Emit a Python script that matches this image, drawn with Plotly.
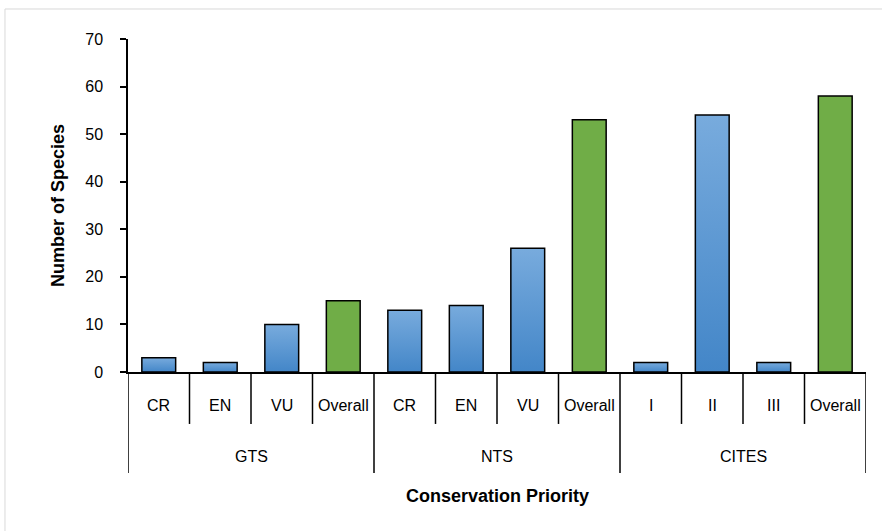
import plotly.graph_objects as go

# Conservation priority counts, grouped by listing scheme
groups = ["GTS", "NTS", "CITES"]
categories = ["CR", "EN", "VU", "Overall",
              "CR", "EN", "VU", "Overall",
              "I", "II", "III", "Overall"]
group_of = ["GTS"] * 4 + ["NTS"] * 4 + ["CITES"] * 4
species = [3, 2, 10, 15,
           13, 14, 26, 53,
           2, 54, 2, 58]
y_ticks = [0, 10, 20, 30, 40, 50, 60, 70]

BLUE_TOP = "#78abdd"
BLUE_BOTTOM = "#4386c8"
GREEN = "#70ad47"
FONT = "Liberation Sans, Arial, sans-serif"
LABEL_SIZE = 16
TITLE_SIZE = 18
BAR_W = 0.55

fig = go.Figure()

for i, (cat, val) in enumerate(zip(categories, species)):
    x0, x1 = i - BAR_W / 2, i + BAR_W / 2
    xs = [x0, x0, x1, x1, x0]
    ys = [0, val, val, 0, 0]
    if cat == "Overall":
        fig.add_trace(go.Scatter(
            x=xs, y=ys, mode="lines", fill="toself", fillcolor=GREEN,
            line=dict(color="black", width=1.5), hoverinfo="skip",
            showlegend=False))
    else:
        fig.add_trace(go.Scatter(
            x=xs, y=ys, mode="lines", fill="toself",
            fillgradient=dict(type="vertical",
                              colorscale=[[0, BLUE_BOTTOM], [1, BLUE_TOP]]),
            line=dict(color="black", width=1.5), hoverinfo="skip",
            showlegend=False))

n = len(categories)
shapes = []
annotations = []

# Category axis: divider lines between categories, longer ones between groups
for k in range(n + 1):
    is_group_edge = k == 0 or k == n or group_of[k - 1] != group_of[k]
    shapes.append(dict(
        type="line", xref="x", yref="paper",
        x0=k - 0.5, x1=k - 0.5, y0=0, y1=-0.303 if is_group_edge else -0.156,
        line=dict(color="black", width=1.5)))

for i, cat in enumerate(categories):
    annotations.append(dict(
        x=i, y=-0.102, xref="x", yref="paper", text=cat, showarrow=False,
        font=dict(family=FONT, size=LABEL_SIZE, color="black"),
        xanchor="center", yanchor="middle"))

for g in groups:
    idx = [i for i, gg in enumerate(group_of) if gg == g]
    annotations.append(dict(
        x=(idx[0] + idx[-1]) / 2, y=-0.255, xref="x", yref="paper", text=g,
        showarrow=False, font=dict(family=FONT, size=LABEL_SIZE, color="black"),
        xanchor="center", yanchor="middle"))

annotations.append(dict(
    x=0.5, y=-0.372, xref="paper", yref="paper",
    text="<b>Conservation Priority</b>", showarrow=False,
    font=dict(family=FONT, size=TITLE_SIZE, color="black"),
    xanchor="center", yanchor="middle"))

# Light chart-area frame
shapes.append(dict(
    type="rect", xref="paper", yref="paper",
    x0=-0.1667, x1=1.1, y0=-0.6, y1=1.0901,
    line=dict(color="#d9d9d9", width=1), layer="below"))

fig.update_layout(
    width=882, height=531,
    margin=dict(l=128, r=16, t=39, b=159),
    paper_bgcolor="white", plot_bgcolor="white",
    font=dict(family=FONT, size=LABEL_SIZE, color="black"),
    shapes=shapes, annotations=annotations,
    xaxis=dict(
        range=[-0.5, n - 0.5], showticklabels=False, showgrid=False,
        zeroline=False, showline=True, linecolor="black", linewidth=1.5,
        ticks="", fixedrange=True),
    yaxis=dict(
        range=[0, 70], tickvals=y_ticks, showgrid=False, zeroline=False,
        showline=True, linecolor="black", linewidth=1.5,
        ticks="outside", ticklen=6, tickwidth=1.5, tickcolor="black",
        ticklabelstandoff=14,
        tickfont=dict(family=FONT, size=LABEL_SIZE, color="black"),
        title=dict(text="<b>Number of Species</b>", standoff=16,
                   font=dict(family=FONT, size=TITLE_SIZE, color="black")),
        fixedrange=True),
)

fig.write_html("out.html")
